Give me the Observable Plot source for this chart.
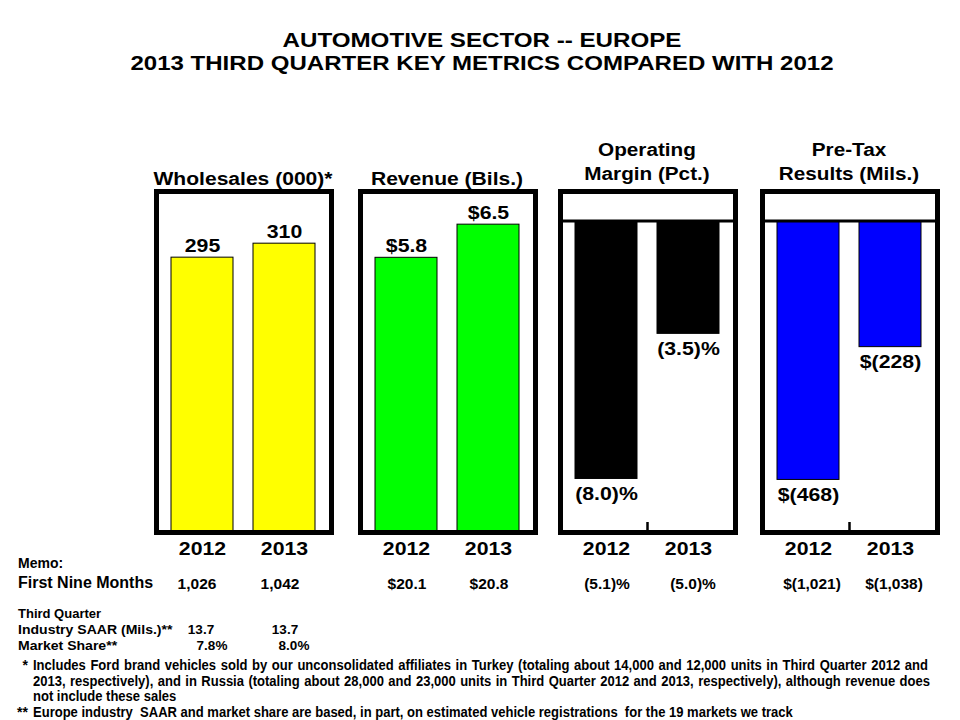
<!DOCTYPE html>
<html><head><meta charset="utf-8">
<script src="https://cdn.jsdelivr.net/npm/d3@7"></script>
<script src="https://cdn.jsdelivr.net/npm/@observablehq/plot@0.6"></script>
<style>
body{margin:0;background:#fff;}
#page{position:relative;width:960px;height:720px;overflow:hidden;font-family:"Liberation Sans",Arial,sans-serif;color:#000;}
.abs{position:absolute;white-space:nowrap;}
.panel{position:absolute;}
.foot{position:absolute;font-family:"Liberation Sans",Arial,sans-serif;font-weight:bold;transform-origin:0 0;}
</style></head>
<body><div id="page"></div>
<script>
// ---- data ----
const years = ["2012", "2013"];
const wholesales = [295, 310];
const revenue = [5.8, 6.5];
const operatingMargin = [-8.0, -3.5];
const preTax = [-468, -228];
const panelTitles = [["Wholesales (000)*"], ["Revenue (Bils.)"], ["Operating", "Margin (Pct.)"], ["Pre-Tax", "Results (Mils.)"]];
const nineWholesales = [1026, 1042];
const nineRevenue = [20.1, 20.8];
const nineMargin = [-5.1, -5.0];
const ninePreTax = [-1021, -1038];
const industrySaar = [13.7, 13.7];
const marketShare = [7.8, 8.0];
const titleLines = ["AUTOMOTIVE SECTOR -- EUROPE", "2013 THIRD QUARTER KEY METRICS COMPARED WITH 2012"];
const footnotes = [
  "Includes Ford brand vehicles sold by our unconsolidated affiliates in Turkey (totaling about 14,000 and 12,000 units in Third Quarter 2012 and",
  "2013, respectively), and in Russia (totaling about 28,000 and 23,000 units in Third Quarter 2012 and 2013, respectively), although revenue does",
  "not include these sales",
  "Europe industry  SAAR and market share are based, in part, on estimated vehicle registrations  for the 19 markets we track"
];

// ---- helpers ----
const page = document.getElementById("page");
function place(text, {x, base, size, anchor = "start", weight = "bold", sx = 1}) {
  const d = document.createElement("div");
  d.className = "abs";
  d.textContent = text;
  d.style.fontSize = size + "px";
  d.style.lineHeight = size + "px";
  d.style.fontWeight = weight;
  d.style.top = (base - 0.8465 * size) + "px";
  d.style.left = x + "px";
  if (anchor === "middle") { d.style.transformOrigin = "50% 50%"; d.style.transform = `translateX(-50%) scaleX(${sx})`; }
  else if (anchor === "end") { d.style.transformOrigin = "100% 50%"; d.style.transform = `translateX(-100%) scaleX(${sx})`; }
  else { d.style.transformOrigin = "0 50%"; d.style.transform = `scaleX(${sx})`; }
  page.appendChild(d);
  return d;
}

// ---- title ----
place(titleLines[0], {x: 482, base: 47, size: 21, anchor: "middle", sx: 1.15});
place(titleLines[1], {x: 482, base: 70, size: 21, anchor: "middle", sx: 1.145});

// ---- panels ----
const fmtMoney1 = v => "$" + v.toFixed(1);
const fmtPct = v => v < 0 ? `(${Math.abs(v).toFixed(1)})%` : `${v.toFixed(1)}%`;
const fmtMoney0 = v => v < 0 ? `$(${d3.format(",")(Math.abs(v))})` : "$" + d3.format(",")(v);

const panels = [
  {values: wholesales, fill: "#ffff00", domain: [0, 366], fmt: d3.format(","), left: 155.5, neg: false, cx: 243},
  {values: revenue, fill: "#00ff00", domain: [0, 7.2], fmt: fmtMoney1, left: 359.5, neg: false, cx: 447},
  {values: operatingMargin, fill: "#000000", domain: [-9.66, 0.915], fmt: fmtPct, left: 559.5, neg: true, cx: 647},
  {values: preTax, fill: "#0000ff", domain: [-563, 53.3], fmt: fmtMoney0, left: 761.5, neg: true, cx: 848.5}
];

function midTick(index, scales, values, dims) {
  const x = (dims.marginLeft + dims.width - dims.marginRight) / 2;
  const y = dims.height - dims.marginBottom;
  return d3.create("svg:line")
    .attr("x1", x).attr("x2", x).attr("y1", y).attr("y2", y - 10)
    .attr("stroke", "#000").attr("stroke-width", 2.5).node();
}

panels.forEach((p, i) => {
  const data = years.map((y, j) => ({year: y, value: p.values[j]}));
  const chart = Plot.plot({
    width: 183, height: 375,
    marginLeft: 4, marginRight: 4, marginTop: 4, marginBottom: 30,
    style: {fontFamily: '"Liberation Sans", Arial, sans-serif', background: "transparent", color: "#000", overflow: "visible"},
    x: {domain: years, paddingInner: 0.24, paddingOuter: 0.18},
    y: {domain: p.domain, axis: null},
    marks: [
      Plot.barY(data, {x: "year", y: "value", fill: p.fill, stroke: "#000", strokeWidth: 1}),
      p.neg ? Plot.ruleY([0], {stroke: "#000", strokeWidth: 3}) : null,
      p.neg ? midTick : null,
      Plot.text(data, {x: "year", y: "value", text: d => p.fmt(d.value), dy: p.neg ? 15 : -12, fontSize: 19, fontWeight: "bold", fill: "#000"}),
      Plot.frame({stroke: "#000", strokeWidth: 5}),
      Plot.axisX({tickSize: 0, tickPadding: 9, fontSize: 19, fontWeight: "bold", label: null, fill: "#000"})
    ]
  });
  // widen the glyphs horizontally like the reference lettering
  chart.querySelectorAll("text").forEach(t => {
    const tr = t.getAttribute("transform");
    if (tr && tr.includes("translate")) t.setAttribute("transform", tr + " scale(1.12,1)");
  });
  const holder = document.createElement("div");
  holder.className = "panel";
  holder.style.left = (p.left - 4) + "px";
  holder.style.top = (190.5 - 4) + "px";
  holder.appendChild(chart);
  page.appendChild(holder);

  const t = panelTitles[i];
  if (t.length === 1) {
    place(t[0], {x: p.cx, base: 185, size: 18, anchor: "middle", sx: 1.17});
  } else {
    place(t[0], {x: p.cx, base: 156, size: 18, anchor: "middle", sx: 1.15});
    place(t[1], {x: p.cx, base: 180, size: 18, anchor: "middle", sx: 1.15});
  }
});

// ---- memo ----
place("Memo:", {x: 18, base: 568, size: 14});
place("First Nine Months", {x: 18, base: 589, size: 16});
const memoValues = [
  ...nineWholesales.map(d3.format(",")),
  ...nineRevenue.map(fmtMoney1),
  ...nineMargin.map(fmtPct),
  ...ninePreTax.map(fmtMoney0)
];
const memoX = [197, 280, 407, 489, 607, 693, 812, 894];
memoValues.forEach((v, i) => place(v, {x: memoX[i], base: 589, size: 15.5, anchor: "middle"}));

place("Third Quarter", {x: 18, base: 618, size: 13});
place("Industry SAAR (Mils.)**", {x: 18, base: 634, size: 13.5, sx: 1.04});
place("Market Share**", {x: 18, base: 650, size: 13.5, sx: 1.04});
const saarX = [201, 285];
industrySaar.forEach((v, i) => place(v.toFixed(1), {x: saarX[i], base: 634, size: 13.5, anchor: "middle"}));
const shareX = [212, 294];
marketShare.forEach((v, i) => place(v.toFixed(1) + "%", {x: shareX[i], base: 650, size: 13.5, anchor: "middle"}));

// ---- footnotes ----
place("*", {x: 28, base: 670, size: 14, anchor: "end"});
place("**", {x: 28, base: 716.5, size: 14, anchor: "end"});
const footBase = [670, 685.5, 701, 716.5];
const footWidth = [895, 897, null, null];
const fs = 14, squeeze = 0.93;
footnotes.forEach((t, i) => {
  const d = document.createElement("div");
  d.className = "foot";
  d.textContent = t;
  d.style.fontSize = fs + "px";
  d.style.lineHeight = fs + "px";
  d.style.left = "33px";
  d.style.top = (footBase[i] - 0.8465 * fs) + "px";
  d.style.transform = `scaleX(${squeeze})`;
  if (footWidth[i]) {
    d.style.width = (footWidth[i] / squeeze) + "px";
    d.style.textAlign = "justify";
    d.style.textAlignLast = "justify";
  } else {
    d.style.whiteSpace = "pre";
  }
  page.appendChild(d);
});
</script>
</body></html>
